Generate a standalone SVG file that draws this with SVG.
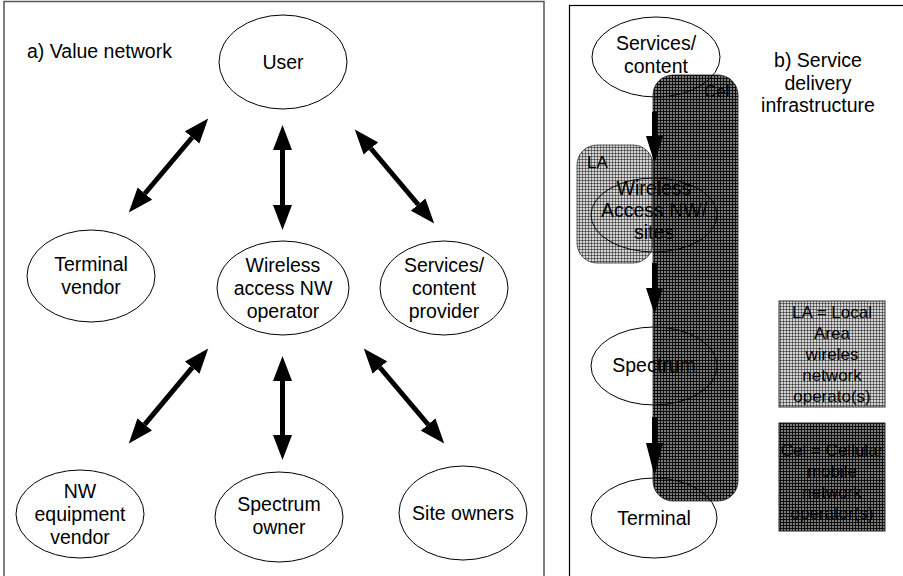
<svg xmlns="http://www.w3.org/2000/svg" width="903" height="576" viewBox="0 0 903 576">
<style>
text{font-family:"Liberation Sans",Arial,sans-serif;font-size:19.5px;fill:#000;text-anchor:middle}
.ell{fill:none;stroke:#000;stroke-width:1}
.dbl{stroke:#000;stroke-width:5;fill:none;marker-start:url(#head);marker-end:url(#head)}
.lbl{text-anchor:start}
.small{font-size:17px}
.leg{font-size:17px}
</style>
<defs>
<marker id="head" markerUnits="userSpaceOnUse" markerWidth="26" markerHeight="20" viewBox="0 -10 26 20" refX="0" refY="0" orient="auto-start-reverse">
<path d="M0,-9.5 L25,0 L0,9.5 z" fill="#000"/>
</marker>
<pattern id="gridDark" width="3" height="3" patternUnits="userSpaceOnUse">
<rect width="3" height="3" fill="#000" fill-opacity="0.52"/>
<path d="M0,0.5 H3 M0.5,0 V3" stroke="#000" stroke-opacity="0.88" stroke-width="1"/>
</pattern>
<pattern id="gridLight" width="3" height="3" patternUnits="userSpaceOnUse">
<rect width="3" height="3" fill="#000" fill-opacity="0.16"/>
<path d="M0,0.5 H3 M0.5,0 V3" stroke="#000" stroke-opacity="0.45" stroke-width="1"/>
</pattern>
</defs>
<rect width="903" height="576" fill="#fff"/>

<!-- panel frames -->
<rect x="4" y="1.5" width="540" height="580" fill="none" stroke="#555" stroke-width="1.5"/>
<rect x="569.5" y="5.5" width="340" height="580" fill="none" stroke="#000" stroke-width="1.2"/>

<text class="lbl" x="27" y="58">a) Value network</text>

<g id="user"><ellipse class="ell" cx="283" cy="62" rx="64" ry="47"/><text x="283" y="69">User</text></g>
<g id="terminal-vendor"><ellipse class="ell" cx="91" cy="276" rx="64" ry="46"/><text x="91" y="271">Terminal</text><text x="91" y="294">vendor</text></g>
<g id="wireless-operator"><ellipse class="ell" cx="283" cy="288" rx="66" ry="47"/><text x="283" y="272">Wireless</text><text x="283" y="295">access NW</text><text x="283" y="318">operator</text></g>
<g id="services-provider"><ellipse class="ell" cx="444" cy="288" rx="64" ry="47"/><text x="444" y="272">Services/</text><text x="444" y="295">content</text><text x="444" y="318">provider</text></g>
<g id="nw-equipment-vendor"><ellipse class="ell" cx="80" cy="514" rx="64" ry="44"/><text x="80" y="498">NW</text><text x="80" y="521">equipment</text><text x="80" y="544">vendor</text></g>
<g id="spectrum-owner"><ellipse class="ell" cx="279" cy="517" rx="64" ry="45"/><text x="279" y="511">Spectrum</text><text x="279" y="534">owner</text></g>
<g id="site-owners"><ellipse class="ell" cx="463" cy="513" rx="64" ry="47"/><text x="463" y="520">Site owners</text></g>

<g id="connectors">
<line class="dbl" x1="192.1" y1="137.5" x2="144.9" y2="193.5"/>
<line class="dbl" x1="282.5" y1="150" x2="282.5" y2="205"/>
<line class="dbl" x1="370.9" y1="148.5" x2="418.1" y2="204.5"/>
<line class="dbl" x1="192.2" y1="367.6" x2="144.8" y2="424.4"/>
<line class="dbl" x1="282.5" y1="381" x2="282.5" y2="435"/>
<line class="dbl" x1="379.9" y1="367.5" x2="428.1" y2="424.5"/>
</g>

<!-- right panel -->
<text x="818" y="67">b) Service</text>
<text x="818" y="90">delivery</text>
<text x="818" y="112">infrastructure</text>

<g id="services-content"><ellipse class="ell" cx="656" cy="57" rx="64" ry="40"/><text x="656" y="50">Services/</text><text x="656" y="73">content</text></g>
<g id="wireless-access-sites"><ellipse class="ell" cx="654" cy="215" rx="63" ry="37"/><text x="654" y="195">Wireless</text><text x="654" y="217">Access NW/</text><text x="654" y="239">sites</text></g>
<g id="spectrum"><ellipse class="ell" cx="654" cy="366" rx="63" ry="39"/><text x="654" y="372">Spectrum</text></g>
<g id="terminal"><ellipse class="ell" cx="654" cy="518" rx="63" ry="40"/><text x="654" y="525">Terminal</text></g>

<g id="la-area">
<rect x="577" y="145" width="76" height="118" rx="20" ry="20" fill="url(#gridLight)" stroke="#333" stroke-width="0.8"/>
<text class="lbl small" x="587" y="168">LA</text>
</g>
<g id="cel-area">
<rect x="653" y="75" width="85" height="426" rx="20" ry="20" fill="url(#gridDark)" stroke="#222" stroke-width="0.8"/>
<text class="lbl small" x="704" y="97">Cel</text>
</g>

<g id="flow-arrows">
<polygon points="652,112 657,112 657,136 663,136 654.5,163 646,136 652,136" fill="#000"/>
<polygon points="652,263 657,263 657,288 663,288 654.5,314 646,288 652,288" fill="#000"/>
<polygon points="652,417 657,417 657,443 663,443 654.5,476 646,443 652,443" fill="#000"/>
</g>

<g id="legend-la">
<rect x="779" y="301" width="106" height="106" fill="url(#gridLight)" stroke="#333" stroke-width="1"/>
<text class="leg" x="832" y="318">LA = Local</text>
<text class="leg" x="832" y="339">Area</text>
<text class="leg" x="832" y="360">wireles</text>
<text class="leg" x="832" y="381">network</text>
<text class="leg" x="832" y="402">operato(s)</text>
</g>
<g id="legend-cel">
<rect x="779" y="423" width="106" height="108" fill="url(#gridDark)" stroke="#222" stroke-width="1"/>
<text class="leg" x="832" y="456">Cel = Cellular</text>
<text class="leg" x="832" y="477">mobile</text>
<text class="leg" x="832" y="498">network</text>
<text class="leg" x="832" y="519">operator(s)</text>
</g>
</svg>
